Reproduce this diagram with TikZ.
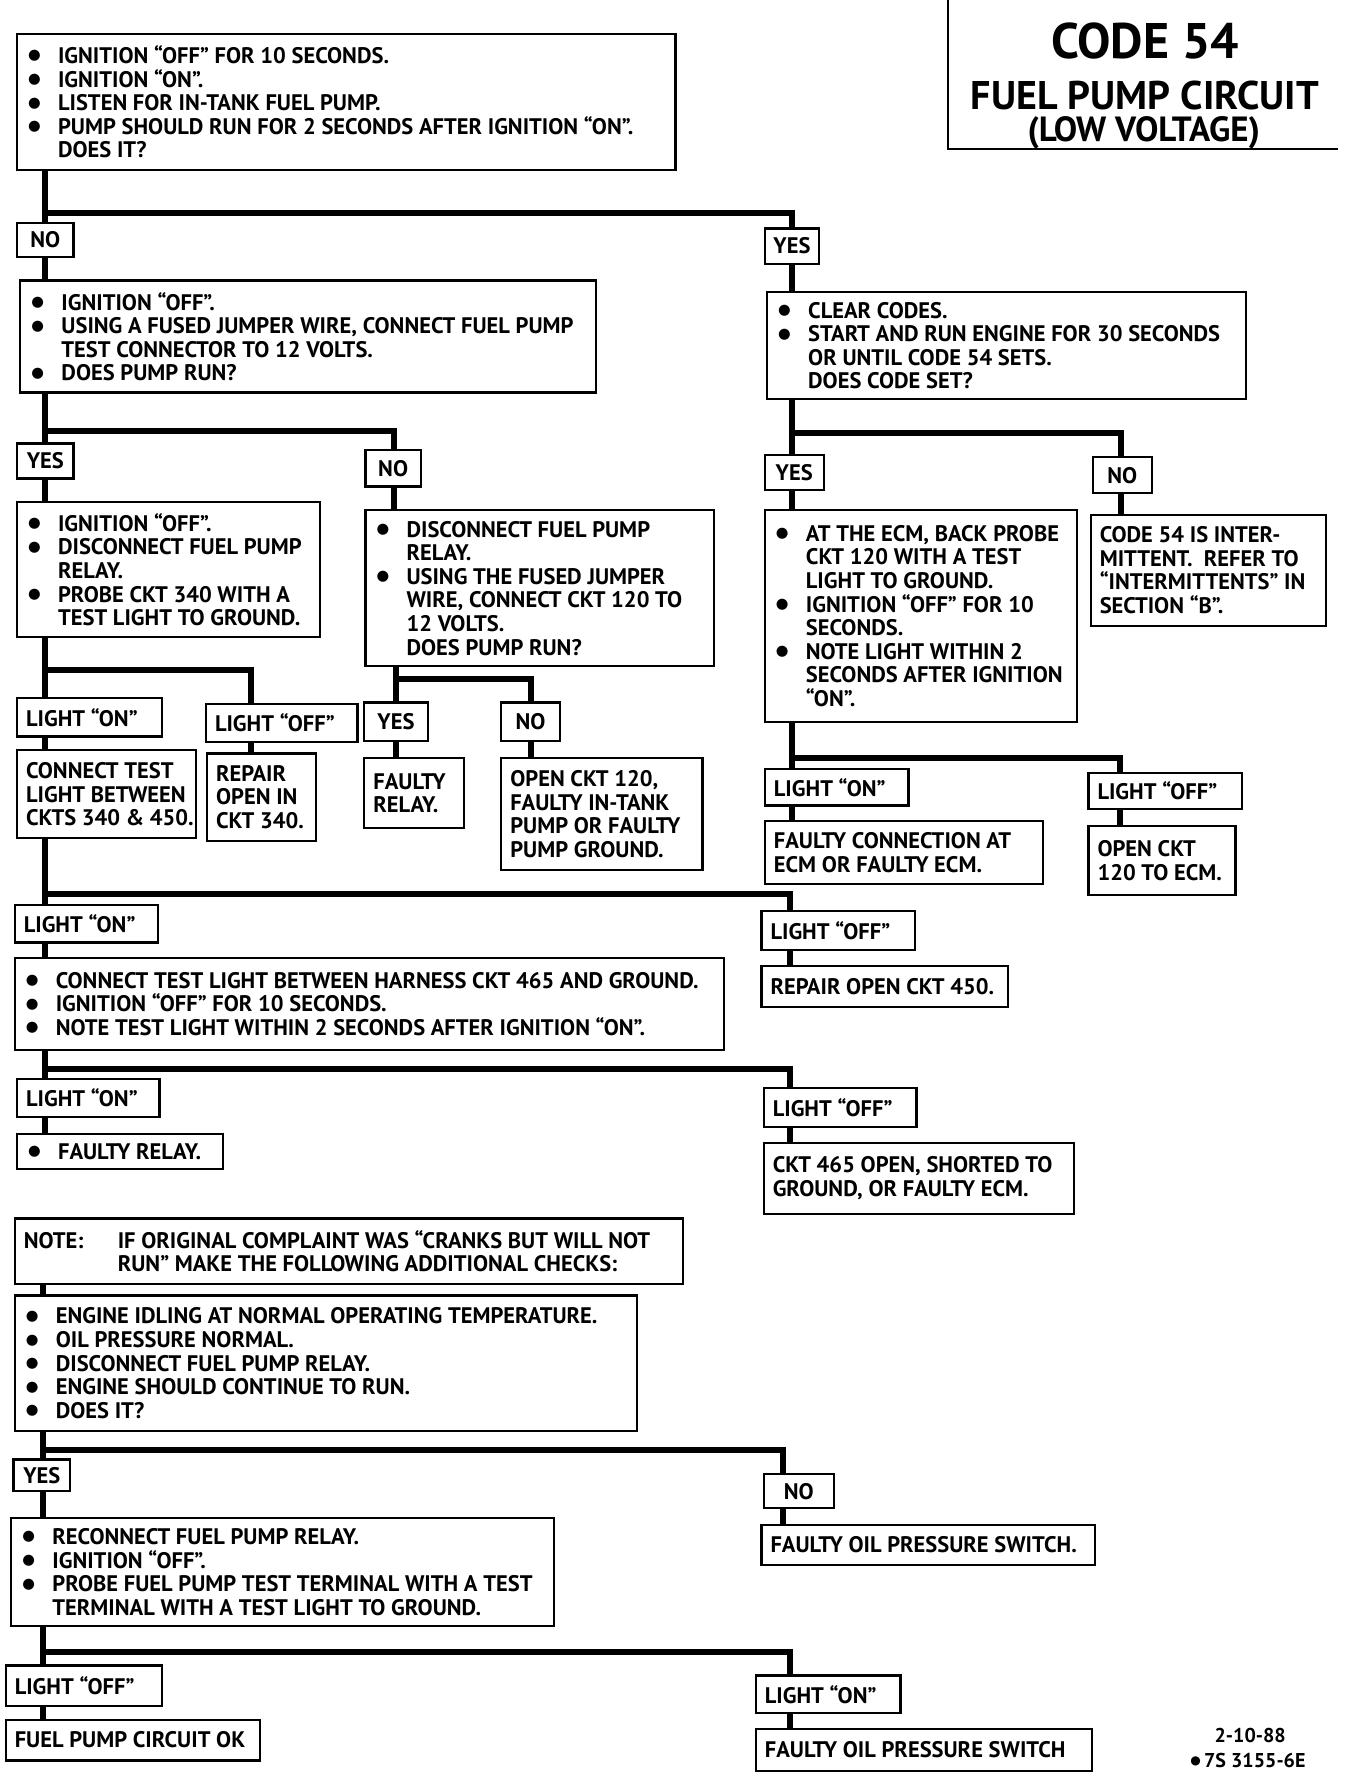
\documentclass[tikz,border=0pt]{standalone}
\usepackage{fontspec}
\usepackage{graphicx}
\setmainfont{PT Sans}
\newfontfamily\dvs{DejaVu Sans}
\usetikzlibrary{fit}
\newcommand\bodyfont{\bfseries\fontsize{22.5}{23.6}\selectfont}
\newcommand\bdot{\raisebox{3.6pt}{\dvs\fontsize{14.5}{14.5}\selectfont ●}}
\newcommand\bl[1]{\makebox[32pt][l]{\hspace{2pt}\bdot}#1}
\newcommand\cl[1]{\makebox[32pt]{}#1}
\tikzset{
  x=1.1313pt, y=-1.1313pt,
  box/.style={draw, line width=2.2pt, inner sep=0pt},
  txt/.style={align=left, inner sep=0pt, font=\bodyfont},
  conn/.style={line width=6pt, line join=miter},
  ttl/.style={inner sep=0pt},
}
% left-aligned box
\newcommand\bx[6]{%
  \node[box, fit={(#2,#3) (#4,#5)}] (#1) {};
  \node[txt, anchor=west] (#1-t) at ([xshift=10pt]#1.west) {#6};}
% centred label
\newcommand\lb[6]{%
  \node[box, fit={(#2,#3) (#4,#5)}] (#1) {};
  \node[txt] (#1-t) at (#1.center) {#6};}
\begin{document}
\begin{tikzpicture}
\fill[white] (0,0) rectangle (1188,1568);
\useasboundingbox (0,0) rectangle (1188,1568);

% title
\coordinate (tl) at (838,0);
\coordinate (tr) at (1183,132);
\draw[line width=2.2pt] (tl) |- (tr);
\node[ttl, font=\bfseries\fontsize{50}{56}\selectfont] (t1) at (1012,36) {CODE 54};
\node[ttl, font=\bfseries\fontsize{40}{44}\selectfont] (t2) at (1012,84) {FUEL PUMP CIRCUIT};
\node[ttl, font=\bfseries\fontsize{35}{40}\selectfont] (t3) at (1011,117) {(LOW VOLTAGE)};

% boxes
\bx{b1}{15}{30}{597}{150}{\bl{IGNITION “OFF” FOR 10 SECONDS.}\\ \bl{IGNITION “ON”.}\\ \bl{LISTEN FOR IN-TANK FUEL PUMP.}\\ \bl{PUMP SHOULD RUN FOR 2 SECONDS AFTER IGNITION “ON”.}\\ \cl{DOES IT?}}
\lb{no1}{15}{197}{65}{227}{NO}
\lb{yes1}{676}{202}{724}{233}{YES}
\bx{b2}{18}{248}{527}{347}{\bl{IGNITION “OFF”.}\\ \bl{USING A FUSED JUMPER WIRE, CONNECT FUEL PUMP}\\ \cl{TEST CONNECTOR TO 12 VOLTS.}\\ \bl{DOES PUMP RUN?}}
\bx{b3}{678}{258}{1101}{353}{\bl{CLEAR CODES.}\\ \bl{START AND RUN ENGINE FOR 30 SECONDS}\\ \cl{OR UNTIL CODE 54 SETS.}\\ \cl{DOES CODE SET?}}
\lb{yes2}{15}{392}{65}{423}{YES}
\lb{no2}{323}{398}{372}{430}{NO}
\bx{b4}{15}{444}{283}{563}{\bl{IGNITION “OFF”.}\\ \bl{DISCONNECT FUEL PUMP}\\ \cl{RELAY.}\\ \bl{PROBE CKT 340 WITH A}\\ \cl{TEST LIGHT TO GROUND.}}
\bx{b5}{323}{451}{631}{589}{\bl{DISCONNECT FUEL PUMP}\\ \cl{RELAY.}\\ \bl{USING THE FUSED JUMPER}\\ \cl{WIRE, CONNECT CKT 120 TO}\\ \cl{12 VOLTS.}\\ \cl{DOES PUMP RUN?}}
\lb{yes3}{676}{402}{728}{433}{YES}
\lb{no3}{966}{404}{1018}{436}{NO}
\bx{b6}{676}{451}{952}{638}{\bl{AT THE ECM, BACK PROBE}\\ \cl{CKT 120 WITH A TEST}\\ \cl{LIGHT TO GROUND.}\\ \bl{IGNITION “OFF” FOR 10}\\ \cl{SECONDS.}\\ \bl{NOTE LIGHT WITHIN 2}\\ \cl{SECONDS AFTER IGNITION}\\ \cl{“ON”.}}
\bx{b7}{964}{455}{1172}{553}{CODE 54 IS INTER-\\ MITTENT.\ \ REFER TO\\ “INTERMITTENTS” IN\\ SECTION “B”.}
\bx{lon4}{15}{617}{143}{651}{LIGHT “ON”}
\bx{loff4}{182}{622}{316}{656}{LIGHT “OFF”}
\lb{yes5}{322}{621}{378}{655}{YES}
\lb{no5}{443}{621}{495}{655}{NO}
\bx{c1}{15}{663}{173}{741}{CONNECT TEST\\ LIGHT BETWEEN\\ CKTS 340 \& 450.}
\bx{r340}{183}{666}{279}{743}{REPAIR\\ OPEN IN\\ CKT 340.}
\bx{frel5}{322}{670}{410}{732}{FAULTY\\ RELAY.}
\bx{o120}{443}{670}{621}{769}{OPEN CKT 120,\\ FAULTY IN-TANK\\ PUMP OR FAULTY\\ PUMP GROUND.}
\bx{lon6}{676}{680}{803}{712}{LIGHT “ON”}
\bx{loff6}{962}{683}{1098}{715}{LIGHT “OFF”}
\bx{fcon}{676}{726}{922}{781}{FAULTY CONNECTION AT\\ ECM OR FAULTY ECM.}
\bx{o120e}{962}{730}{1092}{791}{OPEN CKT\\ 120 TO ECM.}
\bx{lon7}{13}{800}{140}{833}{LIGHT “ON”}
\bx{loff7}{673}{805}{809}{840}{LIGHT “OFF”}
\bx{r450}{673}{854}{891}{890}{REPAIR OPEN CKT 450.}
\bx{c465}{13}{847}{640}{928}{\bl{CONNECT TEST LIGHT BETWEEN HARNESS CKT 465 AND GROUND.}\\ \bl{IGNITION “OFF” FOR 10 SECONDS.}\\ \bl{NOTE TEST LIGHT WITHIN 2 SECONDS AFTER IGNITION “ON”.}}
\bx{lon8}{15}{954}{141}{987}{LIGHT “ON”}
\bx{frel8}{15}{1002}{197}{1033}{\bl{FAULTY RELAY.}}
\bx{loff8}{675}{962}{810}{996}{LIGHT “OFF”}
\bx{k465}{675}{1010}{949}{1073}{CKT 465 OPEN, SHORTED TO\\ GROUND, OR FAULTY ECM.}
\bx{note}{13}{1077}{604}{1135}{\makebox[94pt][l]{NOTE:}IF ORIGINAL COMPLAINT WAS “CRANKS BUT WILL NOT\\ \makebox[94pt]{}RUN” MAKE THE FOLLOWING ADDITIONAL CHECKS:}
\bx{eng}{13}{1145}{563}{1265}{\bl{ENGINE IDLING AT NORMAL OPERATING TEMPERATURE.}\\ \bl{OIL PRESSURE NORMAL.}\\ \bl{DISCONNECT FUEL PUMP RELAY.}\\ \bl{ENGINE SHOULD CONTINUE TO RUN.}\\ \bl{DOES IT?}}
\lb{yes9}{12}{1290}{62}{1318}{YES}
\lb{no9}{675}{1303}{737}{1333}{NO}
\bx{fops1}{673}{1348}{968}{1383}{FAULTY OIL PRESSURE SWITCH.}
\bx{rec}{10}{1342}{490}{1437}{\bl{RECONNECT FUEL PUMP RELAY.}\\ \bl{IGNITION “OFF”.}\\ \bl{PROBE FUEL PUMP TEST TERMINAL WITH A TEST}\\ \cl{TERMINAL WITH A TEST LIGHT TO GROUND.}}
\bx{loff10}{5}{1472}{143}{1508}{LIGHT “OFF”}
\bx{fpok}{5}{1520}{230}{1556}{FUEL PUMP CIRCUIT OK}
\bx{lon10}{668}{1481}{796}{1514}{LIGHT “ON”}
\bx{fops2}{668}{1528}{965}{1565}{FAULTY OIL PRESSURE SWITCH}

% footer
\node[ttl, font=\bfseries\fontsize{20}{22}\selectfont] (f1) at (1105,1534) {2-10-88};
\node[ttl, font=\bfseries\fontsize{20}{22}\selectfont] (f2) at (1103,1556) {\raisebox{2.5pt}{\dvs\fontsize{12}{12}\selectfont ●}\,7S 3155-6E};

% junctions
\coordinate (j1l) at (40,188);   \coordinate (j1r) at (700,188);
\coordinate (j2l) at (40,381);   \coordinate (j2r) at (348,381);
\coordinate (j3l) at (700,383);  \coordinate (j3r) at (991,383);
\coordinate (j4l) at (40,592);   \coordinate (j4r) at (222,592);
\coordinate (j5l) at (350,600);  \coordinate (j5r) at (469,600);
\coordinate (j6l) at (700,670);  \coordinate (j6r) at (990,670);
\coordinate (j7l) at (40,790);   \coordinate (j7r) at (698,790);
\coordinate (j8l) at (40,945);   \coordinate (j8r) at (698,945);
\coordinate (j9l) at (38,1282);  \coordinate (j9r) at (692,1282);
\coordinate (j10l) at (38,1460); \coordinate (j10r) at (698,1460);

% connectors
\draw[conn] (b1.south -| j1l) -- (no1.north -| j1l);
\draw[conn] (j1l) -| (yes1.north -| j1r);
\draw[conn] (no1.south -| j1l) -- (b2.north -| j1l);
\draw[conn] (yes1.south -| j1r) -- (b3.north -| j1r);

\draw[conn] (b2.south -| j2l) -- (yes2.north -| j2l);
\draw[conn] (j2l) -| (no2.north -| j2r);
\draw[conn] (yes2.south -| j2l) -- (b4.north -| j2l);
\draw[conn] (no2.south -| j2r) -- (b5.north -| j2r);

\draw[conn] (b3.south -| j3l) -- (yes3.north -| j3l);
\draw[conn] (j3l) -| (no3.north -| j3r);
\draw[conn] (yes3.south -| j3l) -- (b6.north -| j3l);
\draw[conn] (no3.south -| j3r) -- (b7.north -| j3r);

\draw[conn] (b4.south -| j4l) -- (lon4.north -| j4l);
\draw[conn] (j4l) -| (loff4.north -| j4r);
\draw[conn] (lon4.south -| j4l) -- (c1.north -| j4l);
\draw[conn] (loff4.south -| j4r) -- (r340.north -| j4r);

\draw[conn] (b5.south -| j5l) -- (yes5.north -| j5l);
\draw[conn] (j5l) -| (no5.north -| j5r);
\draw[conn] (yes5.south -| j5l) -- (frel5.north -| j5l);
\draw[conn] (no5.south -| j5r) -- (o120.north -| j5r);

\draw[conn] (b6.south -| j6l) -- (lon6.north -| j6l);
\draw[conn] (j6l) -| (loff6.north -| j6r);
\draw[conn] (lon6.south -| j6l) -- (fcon.north -| j6l);
\draw[conn] (loff6.south -| j6r) -- (o120e.north -| j6r);

\draw[conn] (c1.south -| j7l) -- (lon7.north -| j7l);
\draw[conn] (j7l) -| (loff7.north -| j7r);
\draw[conn] (lon7.south -| j7l) -- (c465.north -| j7l);
\draw[conn] (loff7.south -| j7r) -- (r450.north -| j7r);

\draw[conn] (c465.south -| j8l) -- (lon8.north -| j8l);
\draw[conn] (j8l) -| (loff8.north -| j8r);
\draw[conn] (lon8.south -| j8l) -- (frel8.north -| j8l);
\draw[conn] (loff8.south -| j8r) -- (k465.north -| j8r);

\draw[conn] (note.south -| j9l) -- (eng.north -| j9l);
\draw[conn] (eng.south -| j9l) -- (yes9.north -| j9l);
\draw[conn] (j9l) -| (no9.north -| j9r);
\draw[conn] (yes9.south -| j9l) -- (rec.north -| j9l);
\draw[conn] (no9.south -| j9r) -- (fops1.north -| j9r);

\draw[conn] (rec.south -| j10l) -- (loff10.north -| j10l);
\draw[conn] (j10l) -| (lon10.north -| j10r);
\draw[conn] (loff10.south -| j10l) -- (fpok.north -| j10l);
\draw[conn] (lon10.south -| j10r) -- (fops2.north -| j10r);
\end{tikzpicture}
\end{document}
